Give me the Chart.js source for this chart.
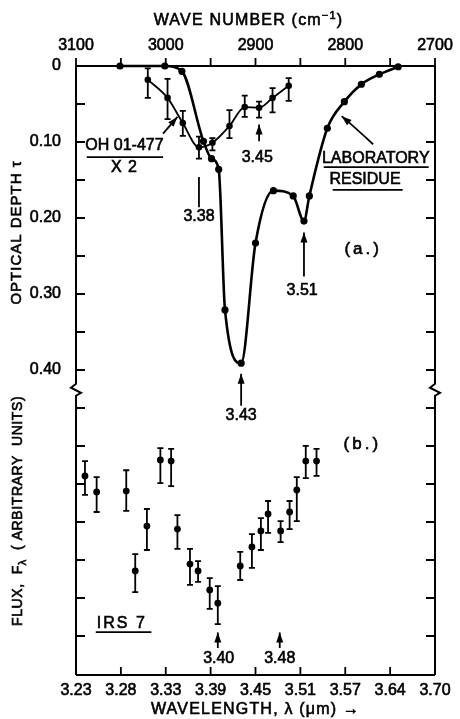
<!DOCTYPE html>
<html>
<head>
<meta charset="utf-8">
<script src="https://cdn.jsdelivr.net/npm/chart.js@4.4.0/dist/chart.umd.min.js"></script>
<style>
  html, body { margin: 0; padding: 0; background: #fff; }
  #wrap { width: 460px; height: 719px; position: relative; }
</style>
</head>
<body>
<div id="wrap"><canvas id="chart"></canvas></div>
<script>
// laboratory residue: wave number (cm-1) and optical depth
var labWavenumber = [3051, 3001, 2982, 2958, 2949, 2941, 2934, 2916, 2900, 2880, 2858, 2846, 2840, 2820, 2801, 2782, 2762, 2741];
var labTau = [0, 0, 0.007, 0.099, 0.122, 0.136, 0.321, 0.391, 0.233, 0.164, 0.171, 0.204, 0.171, 0.082, 0.047, 0.024, 0.011, 0.001];

// OH 01-477 (x 2) with error bars
var ohWavenumber = [3020, 2998, 2981, 2963, 2948, 2929, 2912, 2896, 2881, 2863];
var ohTau   = [0.018, 0.042, 0.075, 0.107, 0.101, 0.079, 0.054, 0.055, 0.042, 0.026];
var ohTauLo = [0.003, 0.017, 0.059, 0.093, 0.095, 0.058, 0.039, 0.047, 0.029, 0.016];
var ohTauHi = [0.042, 0.070, 0.092, 0.122, 0.111, 0.095, 0.067, 0.068, 0.061, 0.046];

// IRS 7 flux (arbitrary units)
var irsWavenumber = [3090, 3077, 3044, 3034, 3021, 3006, 2994, 2987, 2973, 2964, 2951, 2942, 2917, 2904, 2894, 2886, 2872, 2862, 2854, 2844, 2832];
var irsFlux   = [5.24, 4.82, 4.84, 2.74, 3.92, 5.66, 5.63, 3.84, 2.92, 2.74, 2.24, 1.89, 2.87, 3.37, 3.79, 4.24, 3.79, 4.29, 4.87, 5.63, 5.63];
var irsFluxLo = [4.74, 4.29, 4.32, 2.18, 3.29, 5.05, 4.97, 3.32, 2.37, 2.45, 1.74, 1.34, 2.50, 2.82, 3.29, 3.74, 3.50, 3.84, 4.05, 5.18, 5.24];
var irsFluxHi = [5.63, 5.21, 5.39, 3.18, 4.37, 5.97, 5.95, 4.21, 3.32, 3.00, 2.55, 2.34, 3.24, 3.71, 4.13, 4.58, 4.05, 4.58, 5.21, 6.03, 5.95];

// tick labels
var wavenumberTicks = [3100, 3000, 2900, 2800, 2700];
var wavelengthTicks = ['3.23', '3.28', '3.33', '3.39', '3.45', '3.51', '3.57', '3.64', '3.70'];
var tauTicks = [0, 0.10, 0.20, 0.30, 0.40];

var FONT = '"Liberation Sans", Arial, sans-serif';

function pairs(xs, ys) {
    return xs.map(function(v, i) { return {x: v, y: ys[i]}; });
}

var decor = {
    id: 'decor',
    beforeDraw: function(chart) {
        var ctx = chart.ctx;
        ctx.save();
        ctx.fillStyle = '#fff';
        ctx.fillRect(0, 0, chart.width, chart.height);
        ctx.restore();
    },
    afterDatasetsDraw: function(chart) {
        var ctx = chart.ctx;
        var a = chart.chartArea;
        var x = chart.scales.x, y = chart.scales.y, yF = chart.scales.yF;
        var px = function(v) { return x.getPixelForValue(v); };
        var py = function(v) { return y.getPixelForValue(v); };
        var pf = function(v) { return yF.getPixelForValue(v); };

        ctx.save();
        ctx.strokeStyle = '#000';
        ctx.fillStyle = '#000';
        ctx.lineCap = 'butt';

        // error bars
        function bar(cx, y1, y2) {
            ctx.beginPath();
            ctx.moveTo(cx, y1); ctx.lineTo(cx, y2);
            ctx.moveTo(cx - 3, y1); ctx.lineTo(cx + 3, y1);
            ctx.moveTo(cx - 3, y2); ctx.lineTo(cx + 3, y2);
            ctx.stroke();
        }
        ctx.lineWidth = 1.8;
        ohWavenumber.forEach(function(v, i) { bar(px(v), py(ohTauLo[i]), py(ohTauHi[i])); });
        irsWavenumber.forEach(function(v, i) { bar(px(v), pf(irsFluxLo[i]), pf(irsFluxHi[i])); });

        // frame with axis break
        var brk = py(0.426);
        ctx.lineWidth = 2;
        ctx.beginPath();
        ctx.moveTo(a.left, a.top); ctx.lineTo(a.right, a.top);
        ctx.moveTo(a.left, a.bottom); ctx.lineTo(a.right, a.bottom);
        [a.left, a.right].forEach(function(sx) {
            ctx.moveTo(sx, a.top); ctx.lineTo(sx, brk - 6);
            ctx.lineTo(sx - 5, brk - 2); ctx.lineTo(sx + 5, brk + 3);
            ctx.lineTo(sx, brk + 6); ctx.lineTo(sx, a.bottom);
        });
        ctx.stroke();

        // inward ticks (outward on top)
        ctx.lineWidth = 1.8;
        ctx.beginPath();
        x.ticks.forEach(function(t) {
            var tx = px(t.value);
            ctx.moveTo(tx, a.bottom); ctx.lineTo(tx, a.bottom - 8);
            ctx.moveTo(tx, a.top); ctx.lineTo(tx, a.top - 8);
        });
        y.ticks.forEach(function(t) {
            var r = t.value / 0.05;
            if (t.value <= 0 || t.value > 0.79 || Math.abs(r - Math.round(r)) > 1e-6) return;
            var ty = py(t.value);
            ctx.moveTo(a.left, ty); ctx.lineTo(a.left + 9, ty);
            ctx.moveTo(a.right, ty); ctx.lineTo(a.right - 9, ty);
        });
        ctx.stroke();

        function head(x1, y1, x2, y2) {
            var ang = Math.atan2(y2 - y1, x2 - x1);
            ctx.beginPath();
            ctx.moveTo(x2, y2);
            ctx.lineTo(x2 - 10 * Math.cos(ang) + 3.5 * Math.sin(ang), y2 - 10 * Math.sin(ang) - 3.5 * Math.cos(ang));
            ctx.lineTo(x2 - 10 * Math.cos(ang) - 3.5 * Math.sin(ang), y2 - 10 * Math.sin(ang) + 3.5 * Math.cos(ang));
            ctx.closePath();
            ctx.fill();
        }
        function arrow(x1, y1, x2, y2) {
            ctx.lineWidth = 1.8;
            ctx.beginPath();
            ctx.moveTo(x1, y1); ctx.lineTo(x2, y2);
            ctx.stroke();
            head(x1, y1, x2, y2);
        }
        // bold-ish lettering: fill plus a thin stroke
        function ink(s, tx, ty) {
            ctx.lineWidth = 0.6;
            ctx.fillText(s, tx, ty);
            ctx.strokeText(s, tx, ty);
        }
        function text(s, tx, ty, size, spacing) {
            ctx.font = size + 'px ' + FONT;
            ctx.letterSpacing = (spacing || 0) + 'px';
            ctx.textAlign = 'center';
            ctx.textBaseline = 'middle';
            ink(s, tx, ty);
            ctx.letterSpacing = '0px';
        }
        function hline(x1, x2, hy) {
            ctx.lineWidth = 1.8;
            ctx.beginPath();
            ctx.moveTo(x1, hy); ctx.lineTo(x2, hy);
            ctx.stroke();
        }

        // panel (a) markers
        ctx.lineWidth = 1.8;
        ctx.beginPath();
        ctx.moveTo(px(2963), py(0.146)); ctx.lineTo(px(2963), py(0.186));
        ctx.stroke();
        text('3.38', px(2963), py(0.198), 16);
        arrow(px(2896), py(0.099), px(2896), py(0.077));
        text('3.45', px(2898), py(0.12), 16);
        arrow(px(2916), py(0.447), px(2916), py(0.405));
        text('3.43', px(2916), py(0.460), 16);
        arrow(px(2846), py(0.277), px(2846), py(0.219));
        text('3.51', px(2848), py(0.296), 16);
        text('(a.)', px(2780), py(0.241), 17, 3);

        // OH 01-477 label
        text('OH 01-477', px(3046), py(0.105), 16);
        hline(px(3088), px(3003), py(0.120));
        text('X 2', px(3046), py(0.134), 16, 1);
        arrow(px(3003), py(0.089), px(2987), py(0.067));

        // laboratory residue label
        text('LABORATORY', px(2766), py(0.122), 16);
        hline(px(2824), px(2707), py(0.133));
        text('RESIDUE', px(2778), py(0.150), 16);
        hline(px(2814), px(2736), py(0.163));
        ctx.lineWidth = 1.8;
        ctx.beginPath();
        ctx.moveTo(px(2769), py(0.103));
        ctx.quadraticCurveTo(px(2790), py(0.080), px(2804), py(0.066));
        ctx.stroke();
        head(px(2794), py(0.076), px(2804), py(0.066));

        // panel (b)
        text('(b.)', px(2781), pf(6.08), 17, 3);
        arrow(px(2942), pf(0.71), px(2942), pf(1.12));
        text('3.40', px(2941), pf(0.42), 16);
        arrow(px(2873), pf(0.71), px(2873), pf(1.12));
        text('3.48', px(2873), pf(0.42), 16);
        text('IRS 7', px(3049), pf(1.36), 16, 2);
        hline(px(3078), px(3016), pf(1.13));

        // axis titles
        ctx.textBaseline = 'middle';
        ctx.textAlign = 'left';
        ctx.letterSpacing = '1.2px';
        var t1 = 'WAVE NUMBER (cm', t2 = '\u22121', t3 = ')';
        ctx.font = '16px ' + FONT;
        var w1 = ctx.measureText(t1).width, w3 = ctx.measureText(t3).width;
        ctx.font = '11px ' + FONT;
        var w2 = ctx.measureText(t2).width;
        var sx = (a.left + a.right) / 2 - 7 - (w1 + w2 + w3) / 2;
        ctx.font = '16px ' + FONT;
        ink(t1, sx, 21);
        ctx.font = '11px ' + FONT;
        ink(t2, sx + w1, 16);
        ctx.font = '16px ' + FONT;
        ink(t3, sx + w1 + w2, 21);

        text('WAVELENGTH, \u03bb (\u03bcm) \u2192', (a.left + a.right) / 2, 710, 16, 1.2);

        // rotated left titles
        ctx.save();
        ctx.translate(17, py(0.219));
        ctx.rotate(-Math.PI / 2);
        text('OPTICAL DEPTH \u03c4', 0, 0, 15, 1);
        ctx.restore();

        ctx.save();
        ctx.translate(18, pf(4.32));
        ctx.rotate(-Math.PI / 2);
        ctx.letterSpacing = '0.6px';
        ctx.textBaseline = 'middle';
        ctx.textAlign = 'left';
        var f1 = 'FLUX,  F', f2 = '\u03bb', f3 = '  ( ARBITRARY  UNITS)';
        ctx.font = '14px ' + FONT;
        var g1 = ctx.measureText(f1).width, g3 = ctx.measureText(f3).width;
        ctx.font = '11px ' + FONT;
        var g2 = ctx.measureText(f2).width;
        var st = -(g1 + g2 + g3) / 2;
        ctx.font = '14px ' + FONT;
        ink(f1, st, 0);
        ctx.font = '11px ' + FONT;
        ink(f2, st + g1, 5);
        ctx.font = '14px ' + FONT;
        ink(f3, st + g1 + g2, 0);
        ctx.letterSpacing = '0px';
        ctx.restore();

        ctx.restore();
    }
};

var tickFont = { family: FONT, size: 16 };

var ctx = document.getElementById('chart').getContext('2d');
new Chart(ctx, {
    type: 'line',
    data: {
        datasets: [{
            label: 'Laboratory residue',
            data: pairs(labWavenumber, labTau),
            xAxisID: 'x', yAxisID: 'y',
            borderColor: '#000', borderWidth: 2.6,
            pointRadius: 3.6, pointBackgroundColor: '#000', pointBorderWidth: 0,
            cubicInterpolationMode: 'monotone',
            clip: false
        }, {
            label: 'OH 01-477 x 2',
            data: pairs(ohWavenumber, ohTau),
            xAxisID: 'x', yAxisID: 'y',
            borderColor: '#000', borderWidth: 1.8,
            pointRadius: 3.3, pointBackgroundColor: '#000', pointBorderWidth: 0,
            cubicInterpolationMode: 'monotone',
            clip: false
        }, {
            label: 'IRS 7',
            data: pairs(irsWavenumber, irsFlux),
            xAxisID: 'x', yAxisID: 'yF',
            showLine: false,
            pointRadius: 3.4, pointBackgroundColor: '#000', pointBorderWidth: 0,
            clip: false
        }]
    },
    options: {
        responsive: true,
        maintainAspectRatio: false,
        animation: false,
        layout: { padding: { left: 0, right: 25, top: 0, bottom: 0 } },
        plugins: { legend: { display: false }, tooltip: { enabled: false } },
        scales: {
            x: {
                type: 'linear', position: 'bottom', min: 2700, max: 3100, reverse: true,
                afterFit: function(s) { s.height = 44; },
                grid: { display: false }, border: { display: false },
                ticks: {
                    stepSize: 50, autoSkip: false, maxRotation: 0, padding: -2,
                    color: '#000', font: tickFont, textStrokeColor: '#000', textStrokeWidth: 0.6,
                    callback: function(v) { return wavelengthTicks[Math.round((3100 - v) / 50)] || ''; }
                }
            },
            xTop: {
                type: 'linear', position: 'top', min: 2700, max: 3100, reverse: true,
                afterFit: function(s) { s.height = 66; },
                grid: { display: false }, border: { display: false },
                ticks: {
                    stepSize: 50, autoSkip: false, maxRotation: 0, padding: 3,
                    color: '#000', font: tickFont, textStrokeColor: '#000', textStrokeWidth: 0.6,
                    callback: function(v) { return wavenumberTicks.indexOf(v) >= 0 ? String(v) : ''; }
                }
            },
            y: {
                type: 'linear', position: 'left', min: 0, max: 0.8013, reverse: true,
                afterFit: function(s) { s.width = 76; },
                grid: { display: false }, border: { display: false },
                ticks: {
                    stepSize: 0.05, autoSkip: false, padding: 7,
                    color: '#000', font: tickFont, textStrokeColor: '#000', textStrokeWidth: 0.6,
                    callback: function(v) {
                        for (var i = 0; i < tauTicks.length; i++) {
                            if (Math.abs(tauTicks[i] - v) < 1e-6) return v === 0 ? '0' : v.toFixed(2);
                        }
                        return '';
                    }
                }
            },
            yF: { type: 'linear', display: false, min: 0, max: 16.03 }
        }
    },
    plugins: [decor]
});
</script>
</body>
</html>
